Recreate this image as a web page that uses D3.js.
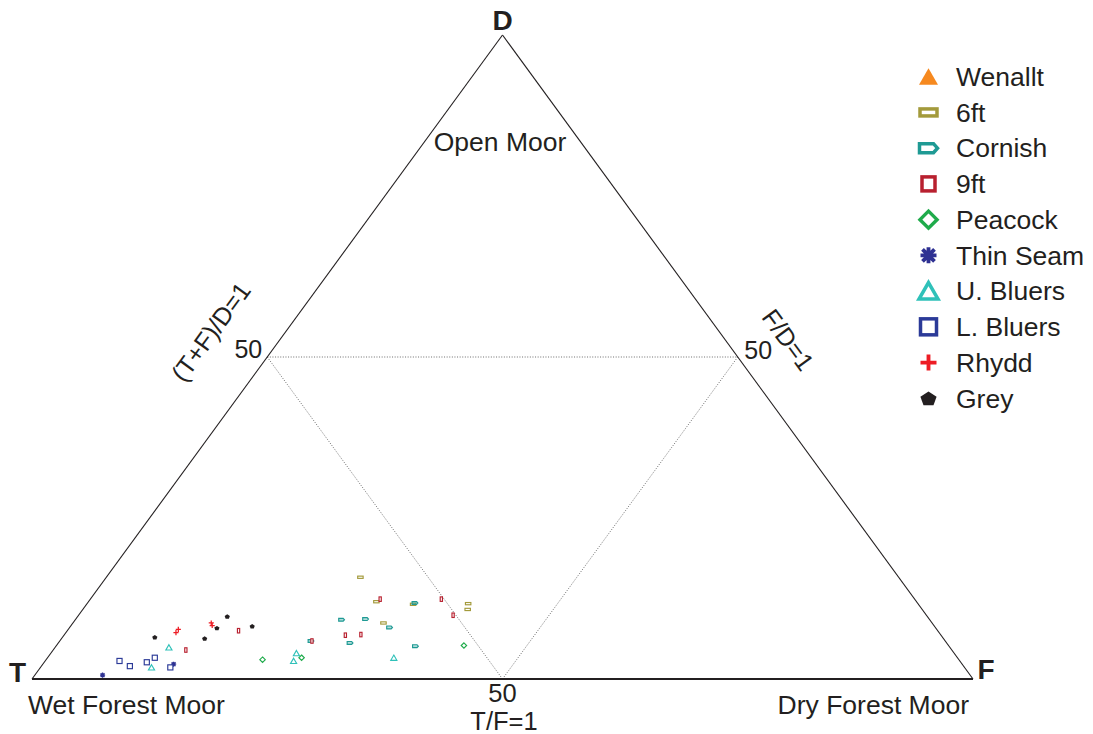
<!DOCTYPE html>
<html>
<head>
<meta charset="utf-8">
<script src="https://cdn.jsdelivr.net/npm/d3@7"></script>
<style>
  html, body { margin: 0; padding: 0; background: #fff; }
  svg { display: block; font-family: "Liberation Sans", Arial, sans-serif; }
</style>
</head>
<body>
<svg id="chart" width="1093" height="734"></svg>
<script>
// ---- Data: each point is [T, F, D] in percent ----
const seriesNames = ["Wenallt", "6ft", "Cornish", "9ft", "Peacock", "Thin Seam", "U. Bluers", "L. Bluers", "Rhydd", "Grey"];
const wenallt = [];
const sixFt = [[57.2, 27.0, 15.8], [57.4, 30.6, 12.0], [58.3, 33.0, 8.7], [53.7, 34.7, 11.6], [47.8, 40.5, 11.7], [48.3, 40.9, 10.8]];
const cornish = [[62.5, 28.3, 9.2], [59.9, 30.8, 9.3], [58.0, 34.0, 8.0], [63.4, 31.0, 5.6], [56.7, 38.2, 5.1], [53.4, 34.8, 11.8], [67.4, 26.7, 5.9]];
const nineFt = [[74.3, 18.2, 7.5], [81.4, 14.1, 4.5], [56.8, 30.8, 12.4], [50.3, 37.3, 12.4], [50.3, 39.8, 9.9], [63.3, 29.9, 6.8], [61.6, 31.5, 6.9], [67.3, 26.8, 5.9]];
const peacock = [[74.0, 23.0, 3.0], [69.7, 27.0, 3.3], [51.5, 43.3, 5.2]];
const thinSeam = [[83.8, 13.9, 2.3], [92.2, 7.2, 0.6]];
const uBluers = [[83.0, 12.1, 4.9], [86.4, 11.8, 1.8], [69.9, 26.1, 4.0], [70.8, 26.4, 2.8], [59.9, 36.8, 3.3]];
const lBluers = [[89.3, 7.9, 2.8], [88.6, 9.4, 2.0], [86.5, 10.9, 2.6], [85.3, 11.4, 3.3], [84.4, 13.8, 1.8]];
const rhydd = [[76.6, 14.7, 8.7], [76.7, 15.0, 8.3], [81.1, 11.7, 7.2], [80.6, 11.7, 7.7]];
const grey = [[74.4, 15.9, 9.7], [72.5, 19.3, 8.2], [76.4, 15.7, 7.9], [78.5, 15.2, 6.3], [83.7, 9.8, 6.5]];
const seriesData = [wenallt, sixFt, cornish, nineFt, peacock, thinSeam, uBluers, lBluers, rhydd, grey];
const seriesColors = ["#f6891f", "#a39a3b", "#1f9a94", "#b8202f", "#1fab4b", "#2e3192", "#2fc1b9", "#2b3a98", "#ed1c24", "#231f20"];
const seriesShapes = ["triFill", "rectH", "tag", "square9", "diamond", "asterisk", "triOpen", "squareL", "plus", "pentagon"];
const gridValues = [50];
const cornerLabels = ["T", "F", "D"];

// ---- Scales ----
const xScale = d3.scaleLinear().domain([0, 100]).range([32, 973]);   // F + D/2
const yScale = d3.scaleLinear().domain([0, 100]).range([679, 35]);   // D
function proj(p) { const f = p[1], d = p[2]; return [xScale(f + d / 2), yScale(d)]; }

const svg = d3.select("#chart");
const ink = "#231f20";

// ---- Grid (dotted) ----
const g50 = gridValues[0];
const gridLines = [
  [[g50, 0, 100 - g50], [0, g50, 100 - g50]],          // D = 50
  [[g50, 0, 100 - g50], [g50, 100 - g50, 0]],          // T = 50
  [[0, g50, 100 - g50], [100 - g50, g50, 0]]           // F = 50
];
svg.append("g").selectAll("line").data(gridLines).join("line")
  .attr("x1", d => proj(d[0])[0]).attr("y1", d => proj(d[0])[1])
  .attr("x2", d => proj(d[1])[0]).attr("y2", d => proj(d[1])[1])
  .attr("stroke", "#6d6d6d").attr("stroke-width", 1)
  .attr("stroke-dasharray", "1,1.6");

// ---- Triangle ----
const vT = proj([100, 0, 0]), vF = proj([0, 100, 0]), vD = proj([0, 0, 100]);
svg.append("line").attr("x1", vT[0]).attr("y1", vT[1]).attr("x2", vD[0]).attr("y2", vD[1])
  .attr("stroke", ink).attr("stroke-width", 1.1);
svg.append("line").attr("x1", vD[0]).attr("y1", vD[1]).attr("x2", vF[0]).attr("y2", vF[1])
  .attr("stroke", ink).attr("stroke-width", 1.1);
svg.append("line").attr("x1", vT[0]).attr("y1", vT[1]).attr("x2", vF[0]).attr("y2", vF[1])
  .attr("stroke", ink).attr("stroke-width", 1.8);

// ---- Marker drawing ----
function drawMarker(g, shape, color, k, sw, inPlot) {
  switch (shape) {
    case "triFill":
      g.append("path").attr("d", `M0,${-8.5*k} L${9.5*k},${8*k} L${-9.5*k},${8*k} Z`).attr("fill", color);
      break;
    case "rectH":
      g.append("rect").attr("x", -8.5*k).attr("y", -3.5*k).attr("width", 17*k).attr("height", 7*k)
        .attr("fill", "#fff").attr("stroke", color).attr("stroke-width", sw);
      break;
    case "tag":
      g.append("path").attr("d", `M${-9*k},${-4.5*k} L${5*k},${-4.5*k} L${9*k},0 L${5*k},${4.5*k} L${-9*k},${4.5*k} Z`)
        .attr("fill", inPlot ? color : "#fff").attr("fill-opacity", inPlot ? 0.35 : 1)
        .attr("stroke", color).attr("stroke-width", sw).attr("stroke-linejoin", "miter");
      break;
    case "square9": {
      const w = inPlot ? 7 : 13;
      g.append("rect").attr("x", -w / 2 * k).attr("y", -7*k).attr("width", w*k).attr("height", 14*k)
        .attr("fill", "#fff").attr("stroke", color).attr("stroke-width", sw);
      break;
    }
    case "squareL":
      g.append("rect").attr("x", -8*k).attr("y", -8*k).attr("width", 16*k).attr("height", 16*k)
        .attr("fill", "#fff").attr("stroke", color).attr("stroke-width", sw);
      break;
    case "diamond":
      g.append("path").attr("d", `M0,${-8.5*k} L${8.5*k},0 L0,${8.5*k} L${-8.5*k},0 Z`)
        .attr("fill", "#fff").attr("stroke", color).attr("stroke-width", sw);
      break;
    case "triOpen":
      g.append("path").attr("d", `M0,${-8.5*k} L${9.5*k},${8*k} L${-9.5*k},${8*k} Z`)
        .attr("fill", "#fff").attr("stroke", color).attr("stroke-width", sw).attr("stroke-linejoin", "miter");
      break;
    case "asterisk": {
      const r = 8 * k, q = 6 * k;
      g.append("path").attr("d", `M0,${-r} L0,${r} M${-r},0 L${r},0 M${-q},${-q} L${q},${q} M${-q},${q} L${q},${-q}`)
        .attr("stroke", color).attr("stroke-width", sw * 1.1).attr("fill", "none");
      break;
    }
    case "plus": {
      const r = 8 * k;
      g.append("path").attr("d", `M0,${-r} L0,${r} M${-r},0 L${r},0`)
        .attr("stroke", color).attr("stroke-width", sw * 1.1).attr("fill", "none");
      break;
    }
    case "pentagon": {
      const r = 8.5 * k;
      const pts = d3.range(5).map(i => {
        const a = -Math.PI / 2 + i * 2 * Math.PI / 5;
        return [r * Math.cos(a), r * Math.sin(a) * 0.9 + 0.8 * k];
      });
      g.append("path").attr("d", "M" + pts.map(p => p.join(",")).join("L") + "Z").attr("fill", color);
      break;
    }
  }
}

// ---- Points ----
const pointsG = svg.append("g");
seriesData.forEach((arr, si) => {
  arr.forEach(p => {
    const [x, y] = proj(p);
    const g = pointsG.append("g").attr("transform", `translate(${x},${y})`);
    drawMarker(g, seriesShapes[si], seriesColors[si], 0.32, 1.15, true);
  });
});

// ---- Legend ----
const legendY = d3.scalePoint().domain(seriesNames).range([76.7, 398.3]);
const legend = svg.append("g");
seriesNames.forEach((name, i) => {
  const y = legendY(name);
  const g = legend.append("g").attr("transform", `translate(928.5,${y})`);
  drawMarker(g, seriesShapes[i], seriesColors[i], 1, 3.5, false);
  legend.append("text").attr("x", 956).attr("y", y + 9.3)
    .attr("font-size", 26.5).attr("fill", ink).text(name);
});

// ---- Labels ----
const txt = (x, y, s, size, anchor, weight) =>
  svg.append("text").attr("x", x).attr("y", y).attr("font-size", size)
    .attr("text-anchor", anchor || "start").attr("font-weight", weight || "normal")
    .attr("fill", ink).text(s);

txt(vD[0], 30, cornerLabels[2], 28, "middle", "bold");
txt(17.5, 682, cornerLabels[0], 28, "middle", "bold");
txt(986, 679, cornerLabels[1], 28, "middle", "bold");

txt(500, 151, "Open Moor", 26.5, "middle");
txt(28, 714, "Wet Forest Moor", 26.5, "start");
txt(969, 714, "Dry Forest Moor", 26.5, "end");

const pL = proj([g50, 0, 100 - g50]), pR = proj([0, g50, 100 - g50]), pB = proj([g50, g50, 0]);
txt(pL[0] - 5, pL[1] + 0.5, String(g50), 25, "end");
txt(pR[0] + 6.5, pR[1] + 1.5, String(g50), 25, "start");
txt(pB[0], 702, String(g50), 25.5, "middle");
txt(pB[0] + 1.5, 730, "T/F=1", 25.5, "middle");

const ang = Math.atan2(vT[1] - vD[1], vD[0] - vT[0]) * 180 / Math.PI; // ~53.85
svg.append("text").attr("transform", `translate(218,337) rotate(${-ang})`)
  .attr("font-size", 25).attr("text-anchor", "middle").attr("fill", ink).text("(T+F)/D=1");
svg.append("text").attr("transform", `translate(781,345) rotate(${ang})`)
  .attr("font-size", 25).attr("text-anchor", "middle").attr("fill", ink).text("F/D=1");
</script>
</body>
</html>
